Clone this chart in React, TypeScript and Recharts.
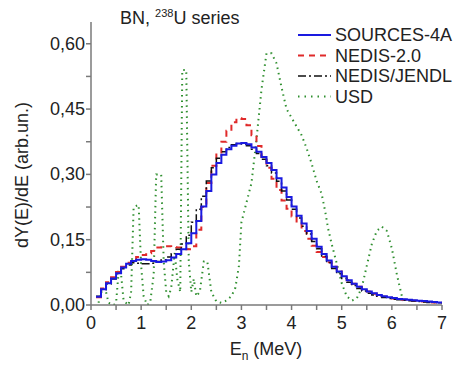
import React from 'react';
import { LineChart, Line, XAxis, YAxis } from 'recharts';

// bin edges (MeV), 0.1 MeV bins
const binEdges = [
  0.1, 0.2, 0.3, 0.4, 0.5, 0.6, 0.7, 0.8, 0.9, 1.0,
  1.1, 1.2, 1.3, 1.4, 1.5, 1.6, 1.7, 1.8, 1.9, 2.0,
  2.1, 2.2, 2.3, 2.4, 2.5, 2.6, 2.7, 2.8, 2.9, 3.0,
  3.1, 3.2, 3.3, 3.4, 3.5, 3.6, 3.7, 3.8, 3.9, 4.0,
  4.1, 4.2, 4.3, 4.4, 4.5, 4.6, 4.7, 4.8, 4.9, 5.0,
  5.1, 5.2, 5.3, 5.4, 5.5, 5.6, 5.7, 5.8, 5.9, 6.0,
  6.1, 6.2, 6.3, 6.4, 6.5, 6.6, 6.7, 6.8, 6.9, 7.0,
];

const sources4a = [
  0.019, 0.036, 0.050, 0.061, 0.073, 0.086, 0.095, 0.101, 0.104, 0.105,
  0.104, 0.101, 0.099, 0.100, 0.103, 0.109, 0.117, 0.128, 0.142, 0.165,
  0.193, 0.226, 0.262, 0.300, 0.326, 0.345, 0.358, 0.366, 0.371, 0.372,
  0.369, 0.362, 0.352, 0.340, 0.326, 0.310, 0.291, 0.270, 0.248, 0.226,
  0.205, 0.187, 0.170, 0.152, 0.134, 0.117, 0.102, 0.088, 0.077, 0.066,
  0.057, 0.049, 0.042, 0.036, 0.031, 0.027, 0.023, 0.020, 0.018, 0.016,
  0.014, 0.013, 0.012, 0.011, 0.010, 0.009, 0.008, 0.007, 0.006, 0.006,
];

const nedis20 = [
  0.018, 0.038, 0.052, 0.064, 0.076, 0.088, 0.097, 0.104, 0.110, 0.115,
  0.119, 0.124, 0.132, 0.135, 0.135, 0.133, 0.132, 0.130, 0.128, 0.135,
  0.173, 0.225, 0.280, 0.320, 0.350, 0.375, 0.400, 0.420, 0.429, 0.427,
  0.413, 0.390, 0.365, 0.340, 0.315, 0.290, 0.264, 0.240, 0.221, 0.203,
  0.187, 0.170, 0.152, 0.136, 0.122, 0.110, 0.098, 0.088, 0.077, 0.066,
  0.057, 0.049, 0.042, 0.036, 0.031, 0.026, 0.022, 0.019, 0.017, 0.015,
  0.013, 0.012, 0.011, 0.010, 0.009, 0.008, 0.007, 0.006, 0.005, 0.005,
];

const nedisJendl = [
  0.020, 0.035, 0.048, 0.060, 0.072, 0.083, 0.092, 0.097, 0.096, 0.095,
  0.095, 0.096, 0.100, 0.104, 0.110, 0.118, 0.128, 0.140, 0.160, 0.190,
  0.220, 0.250, 0.285, 0.315, 0.337, 0.352, 0.362, 0.368, 0.371, 0.370,
  0.366, 0.358, 0.348, 0.335, 0.320, 0.303, 0.284, 0.262, 0.241, 0.220,
  0.200, 0.181, 0.163, 0.146, 0.129, 0.112, 0.097, 0.084, 0.072, 0.061,
  0.052, 0.045, 0.038, 0.032, 0.027, 0.023, 0.020, 0.017, 0.015, 0.013,
  0.012, 0.011, 0.010, 0.009, 0.008, 0.007, 0.006, 0.006, 0.005, 0.005,
];

// USD spectrum, read as a polyline
const usdEnergy = [
  0.15, 0.2, 0.3, 0.35, 0.45, 0.5, 0.55, 0.6, 0.65, 0.75,
  0.8, 0.85, 0.95, 1.0, 1.05, 1.12, 1.18, 1.25, 1.3, 1.4,
  1.45, 1.5, 1.55, 1.6, 1.67, 1.72, 1.78, 1.82, 1.9, 1.95,
  2.0, 2.05, 2.1, 2.17, 2.25, 2.32, 2.4, 2.5, 2.6, 2.7,
  2.8, 2.88, 2.95, 3.0, 3.1, 3.2, 3.3, 3.4, 3.5, 3.6,
  3.7, 3.8, 3.9, 4.0, 4.1, 4.2, 4.3, 4.4, 4.5, 4.6,
  4.67, 4.73, 4.8, 4.9, 5.0, 5.1, 5.2, 5.3, 5.4, 5.5,
  5.6, 5.7, 5.8, 5.9, 6.0, 6.1, 6.2, 6.25,
];
const usdValues = [
  0.005, 0.03, 0.03, 0.005, 0.0, 0.005, 0.075, 0.07, 0.01, 0.0,
  0.03, 0.225, 0.23, 0.09, 0.02, 0.0, 0.005, 0.07, 0.30, 0.30,
  0.10, 0.03, 0.02, 0.04, 0.12, 0.06, 0.03, 0.54, 0.54, 0.10,
  0.03, 0.06, 0.02, 0.03, 0.10, 0.10, 0.03, 0.008, 0.005, 0.01,
  0.02, 0.04, 0.09, 0.19, 0.235, 0.28, 0.38, 0.495, 0.578, 0.578,
  0.555, 0.50, 0.45, 0.43, 0.41, 0.39, 0.36, 0.325, 0.285, 0.255,
  0.215, 0.175, 0.14, 0.096, 0.05, 0.02, 0.01, 0.015, 0.04, 0.09,
  0.14, 0.17, 0.18, 0.17, 0.13, 0.07, 0.02, 0.005,
];

const xTicks = [0, 0.5, 1, 1.5, 2, 2.5, 3, 3.5, 4, 4.5, 5, 5.5, 6, 6.5, 7];
const yTicks = [0, 0.075, 0.15, 0.225, 0.3, 0.375, 0.45, 0.525, 0.6];
const yLabels = ['0,00', '', '0,15', '', '0,30', '', '0,45', '', '0,60'];

const toSteps = (vals: number[]) => {
  const pts = binEdges.slice(0, vals.length).map((e, i) => ({ x: e, y: vals[i] }));
  // close the last bin
  pts.push({ x: binEdges[binEdges.length - 1], y: vals[vals.length - 1] });
  return pts;
};

const sourcesData = toSteps(sources4a.slice(0, 69));
const nedisData = toSteps(nedis20.slice(0, 69));
const jendlData = toSteps(nedisJendl.slice(0, 69));
const usdData = usdEnergy.map((e, i) => ({ x: e, y: usdValues[i] }));

const AXIS = '#7a7a7a';
const FONT = 'Arial, "Liberation Sans", sans-serif';

const XTick = (props: any) => {
  const { x, y, payload } = props;
  const major = Number.isInteger(payload.value);
  return (
    <g>
      <line x1={x} y1={y} x2={x} y2={y + 5} stroke={AXIS} strokeWidth={1.5} />
      {major && (
        <text x={x} y={y + 24} textAnchor="middle" fontSize={18} fill="#222" fontFamily={FONT}>
          {payload.value}
        </text>
      )}
    </g>
  );
};

const YTick = (props: any) => {
  const { x, y, payload, index } = props;
  const label = yLabels[index] ?? '';
  return (
    <g>
      <line x1={x - 5} y1={y} x2={x} y2={y} stroke={AXIS} strokeWidth={1.5} />
      {label && (
        <text x={x - 6} y={y + 6} textAnchor="end" fontSize={18} fill="#222" fontFamily={FONT}>
          {label}
        </text>
      )}
    </g>
  );
};

const legendItems = [
  { name: 'SOURCES-4A', color: '#1a1ae0', dash: undefined, width: 2 },
  { name: 'NEDIS-2.0', color: '#e02a2a', dash: '6 5', width: 2 },
  { name: 'NEDIS/JENDL', color: '#111', dash: '8 3 2 3', width: 1.5 },
  { name: 'USD', color: '#2f8f2f', dash: '1.5 5', width: 2 },
];

export default function App() {
  return (
    <div style={{ position: 'absolute', left: 0, top: 0, width: 457, height: 372, background: '#fff', fontFamily: FONT }}>
      <LineChart width={457} height={372} margin={{ top: 22, right: 15, bottom: 37, left: 31 }}>
        <XAxis
          type="number"
          dataKey="x"
          domain={[0, 7]}
          ticks={xTicks}
          interval={0}
          allowDataOverflow
          height={30}
          tickSize={0}
          tickMargin={0}
          tick={<XTick />}
          stroke={AXIS}
          strokeWidth={1.5}
        />
        <YAxis
          type="number"
          dataKey="y"
          domain={[0, 0.65]}
          ticks={yTicks}
          interval={0}
          allowDataOverflow
          width={60}
          tickSize={0}
          tickMargin={0}
          tick={<YTick />}
          stroke={AXIS}
          strokeWidth={1.5}
        />
        <Line data={usdData} dataKey="y" type="linear" stroke="#2f8f2f" strokeWidth={2} strokeDasharray="1.5 4" dot={false} activeDot={false} isAnimationActive={false} />
        <Line data={nedisData} dataKey="y" type="stepAfter" stroke="#e02a2a" strokeWidth={2} strokeDasharray="6 5" dot={false} activeDot={false} isAnimationActive={false} />
        <Line data={jendlData} dataKey="y" type="stepAfter" stroke="#111" strokeWidth={1.5} strokeDasharray="8 3 2 3" dot={false} activeDot={false} isAnimationActive={false} />
        <Line data={sourcesData} dataKey="y" type="stepAfter" stroke="#1a1ae0" strokeWidth={2} dot={false} activeDot={false} isAnimationActive={false} />
      </LineChart>
      <svg width={457} height={372} style={{ position: 'absolute', left: 0, top: 0, pointerEvents: 'none' }}>
        <text x={120} y={24} fontSize={18} fill="#222" fontFamily={FONT}>
          BN,{' '}
          <tspan fontSize={11} dy={-7}>238</tspan>
          <tspan dy={7}>U series</tspan>
        </text>
        {legendItems.map((it, i) => {
          const cy = 35 + i * 20.5;
          return (
            <g key={it.name}>
              <line x1={298} y1={cy} x2={331} y2={cy} stroke={it.color} strokeWidth={it.width} strokeDasharray={it.dash} />
              <text x={335} y={cy + 6} fontSize={18} fill="#222" fontFamily={FONT}>{it.name}</text>
            </g>
          );
        })}
        <text x={266} y={355} textAnchor="middle" fontSize={18} fill="#222" fontFamily={FONT}>
          E<tspan fontSize={12} dy={5}>n</tspan>
          <tspan dy={-5}> (MeV)</tspan>
        </text>
        <text x={28} y={175} transform="rotate(-90 28 175)" textAnchor="middle" fontSize={18} fill="#222" fontFamily={FONT}>
          dY(E)/dE (arb.un.)
        </text>
      </svg>
    </div>
  );
}
